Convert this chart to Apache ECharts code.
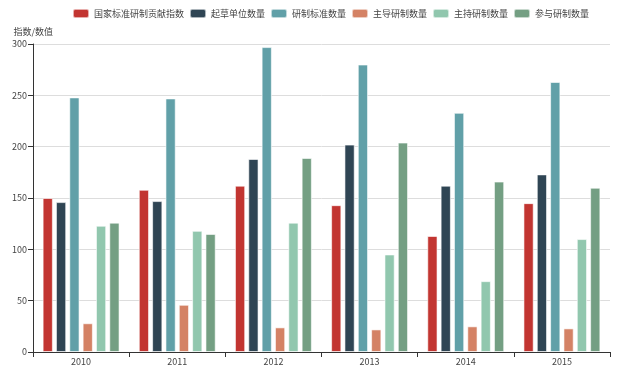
<!DOCTYPE html>
<html><head><meta charset="utf-8">
<script src="https://cdn.jsdelivr.net/npm/echarts@6/dist/echarts.min.js"></script>
<style>html,body{margin:0;padding:0;background:#fff}#c{width:625px;height:371px}</style>
</head><body><div id="c"></div>
<script>
var categories = ['2010','2011','2012','2013','2014','2015'];
var seriesNames = ['国家标准研制贡献指数','起草单位数量','研制标准数量','主导研制数量','主持研制数量','参与研制数量'];
var contribIndex = [150,158,162,143,113,145];
var draftUnits   = [146,147,188,202,162,173];
var standards    = [248,247,297,280,233,263];
var leadCount    = [28,46,24,22,25,23];
var hostCount    = [123,118,126,95,69,110];
var joinCount    = [126,115,189,204,166,160];
var yTicks = [0,50,100,150,200,250,300];
var colors = ['#c23531','#2f4554','#61a0a8','#d48265','#91c7ae','#749f83'];
var allData = [contribIndex,draftUnits,standards,leadCount,hostCount,joinCount];
var font = '"Noto Sans CJK SC", "Noto Sans", sans-serif';
var chart = echarts.init(document.getElementById('c'));
chart.setOption({
  animation:false,
  color: colors,
  textStyle:{fontFamily:font},
  legend:{
    data: seriesNames, top: 8, left:72, itemWidth:16, itemHeight:9, itemGap:5,
    icon:'roundRect', padding:0,
    textStyle:{fontSize:9,color:'#444',fontFamily:font}
  },
  grid:{left:33,right:15,top:44,bottom:19},
  xAxis:{
    type:'category', data:categories,
    axisLine:{lineStyle:{color:'#333'}},
    axisTick:{show:true,lineStyle:{color:'#333'}},
    axisLabel:{fontSize:9,color:'#444',margin:5}
  },
  yAxis:{
    type:'value', name:'指数/数值', min:yTicks[0], max:yTicks[yTicks.length-1], interval:50,
    nameGap:8, nameTextStyle:{fontSize:9,color:'#444',align:'right',padding:[0,-20,0,0]},
    axisLine:{show:true,lineStyle:{color:'#333'}},
    axisTick:{show:true,lineStyle:{color:'#333'}},
    axisLabel:{fontSize:9,color:'#444',margin:6},
    splitLine:{lineStyle:{color:'#ddd'}}
  },
  series: seriesNames.map(function(n,i){
    return {name:n,type:'bar',data:allData[i],barGap:'30%',barCategoryGap:'20%',
      itemStyle:{borderColor:'rgba(255,255,255,0.6)',borderWidth:1}};
  })
});
</script></body></html>
